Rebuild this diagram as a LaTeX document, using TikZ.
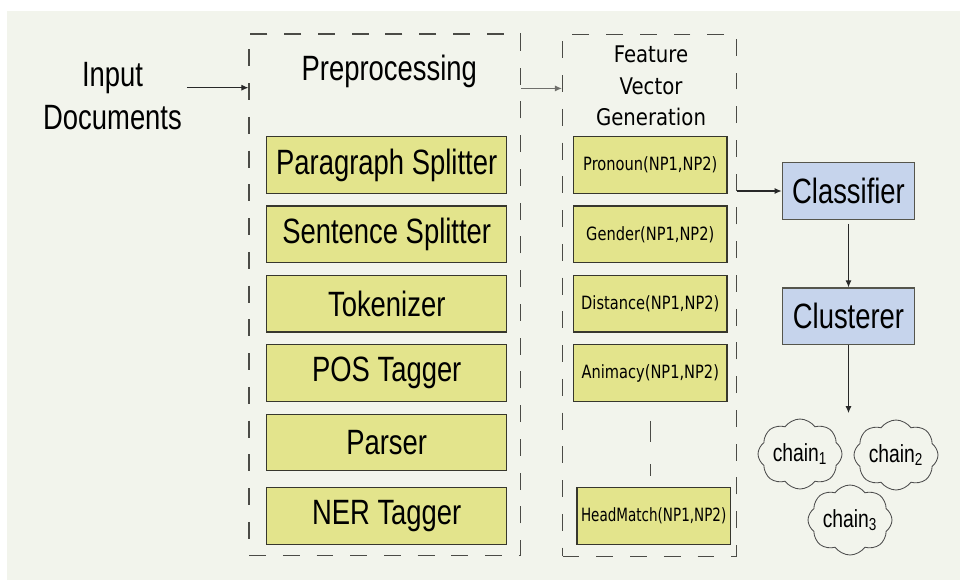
\documentclass[tikz,border=0pt]{standalone}
\usepackage{fontspec}
\setmainfont{Liberation Sans}[FakeStretch=0.78]
\newfontfamily\headfont{DejaVu Sans}[FakeStretch=0.86]
\newfontfamily\featfont{DejaVu Sans}[FakeStretch=0.8]
\newfontfamily\matchfont{DejaVu Sans}[FakeStretch=0.74]
\usetikzlibrary{positioning,shapes.symbols,arrows.meta}

\newlength\px
\setlength\px{0.025cm}

\definecolor{bgpanel}{RGB}{242,244,236}
\definecolor{stepyellow}{RGB}{227,228,140}
\definecolor{stageblue}{RGB}{198,212,236}
\definecolor{boxline}{RGB}{55,55,45}
\definecolor{frameline}{RGB}{75,75,70}
\definecolor{arrowline}{RGB}{40,40,40}

\begin{document}
\begin{tikzpicture}[x=0.025cm,y=-0.025cm,
   bigtext/.style={font=\fontsize{25}{30}\selectfont},
   headtext/.style={font=\headfont\fontsize{16.3}{22.5}\selectfont},
   prebox/.style={draw=boxline, fill=stepyellow, line width=0.9pt,
      minimum width=240\px, minimum height=56.5\px, inner sep=0pt,
      font=\fontsize{25}{30}\selectfont},
   featbox/.style={prebox, minimum width=153.4\px,
      font=\featfont\fontsize{13}{15}\selectfont},
   stagebox/.style={prebox, fill=stageblue, draw=boxline!85,
      minimum width=132.4\px},
   dashframe/.style={draw=frameline, line width=0.8pt,
      dash pattern=on 12pt off 12pt, inner sep=0pt},
   flow/.style={draw=arrowline, line width=0.8pt,
      -{Latex[length=5pt,width=4.3pt]}},
   chaincloud/.style={cloud, cloud puffs=8, cloud puff arc=110,
      cloud ignores aspect, draw=black!70, line width=0.6pt,
      minimum width=84\px, minimum height=70\px, inner sep=0pt,
      font=\fontsize{17.6}{20}\selectfont},
   node distance=11.6\px]

\useasboundingbox (0,0) rectangle (960,580);
\fill[white] (0,0) rectangle (960,580);
\fill[bgpanel] (7,11) rectangle (960,580);

% input
\node[bigtext, align=center] (input) at (112.5,96) {Input\\Documents};

% preprocessing stage
\node[dashframe, minimum width=271.5\px, minimum height=521.5\px] (prep) at (384.75,294.75) {};
\node[bigtext, anchor=base] (preptitle) at (389.3,80) {Preprocessing};

\node[prebox] (para) at (386.7,165) {Paragraph Splitter};
\node[prebox, below=of para] (sent) {Sentence Splitter};
\node[prebox, below=of sent] (tok) {Tokenizer};
\node[prebox, below=of tok] (pos) {POS Tagger};
\node[prebox, below=of pos] (parser) {Parser};
\node[prebox, below=15.8\px of parser] (ner) {NER Tagger};

% feature vectors
\node[dashframe, minimum width=174.2\px, minimum height=522\px] (feat) at (649.6,295.4) {};
\node[headtext, align=center] (feattitle) at (651,86) {Feature\\Vector\\Generation};

\node[featbox, right=65.6\px of para] (pronoun) {Pronoun(NP1,NP2)};
\node[featbox, right=65.6\px of sent] (gender) {Gender(NP1,NP2)};
\node[featbox, right=65.6\px of tok] (distance) {Distance(NP1,NP2)};
\node[featbox, right=65.6\px of pos] (animacy) {Animacy(NP1,NP2)};
\node[featbox, right=69\px of ner, font=\matchfont\fontsize{13}{15}\selectfont] (headmatch) {HeadMatch(NP1,NP2)};

\draw[dashframe, dash pattern=on 15.3pt off 15.3pt]
   ([yshift=-13.5pt]animacy.south) -- ([yshift=-52.6pt]animacy.south);

% learning
\node[stagebox] (classifier) at (848.5,191) {Classifier};
\node[stagebox, below=67.5\px of classifier] (clusterer) {Clusterer};
\coordinate[below=68\px of clusterer] (chains);

% output chains
\node[chaincloud] (chainA) at (800,454) {chain\textsubscript{1}};
\node[chaincloud] (chainB) at (896,455) {chain\textsubscript{2}};
\node[chaincloud] (chainC) at (850,520) {chain\textsubscript{3}};

% arrows
\draw[flow] ([yshift=5.9pt]input.east) -- ([yshift=5.9pt]input.east -| prep.west);
\draw[flow, draw=frameline!80] ([yshift=-39.1pt]prep.north east) -- ([yshift=-39.1pt]prep.north east -| feat.west);
\draw[flow] (classifier.west -| feat.east) -- (classifier.west);
\draw[flow] ([yshift=-2.85pt]classifier.south) -- (clusterer.north);
\draw[flow] (clusterer.south) -- (chains);

\end{tikzpicture}
\end{document}
